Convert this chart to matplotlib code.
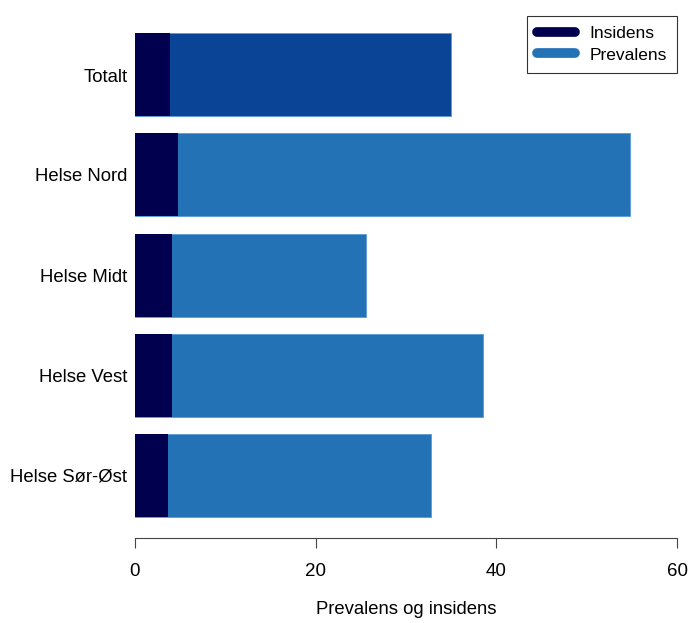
import matplotlib
matplotlib.use("Agg")
import matplotlib.pyplot as plt
from matplotlib.lines import Line2D

plt.rcParams["font.family"] = ["Liberation Sans", "DejaVu Sans"]

regions = ["Totalt", "Helse Nord", "Helse Midt", "Helse Vest", "Helse Sør-Øst"]
prevalens = [35.0, 54.8, 25.6, 38.5, 32.8]
insidens = [3.9, 4.8, 4.1, 4.1, 3.7]

c_ins = "#00004f"
c_prev = "#2372b5"
c_total = "#0a4496"

W, H = 689, 623
fig = plt.figure(figsize=(W / 100, H / 100), dpi=100)
ax = fig.add_axes([135 / W, 1 - 538 / H, (677 - 135) / W, (538 - 25) / H])

ypos = list(range(len(regions)))[::-1]
prev_colors = [c_total] + [c_prev] * (len(regions) - 1)

ax.barh(ypos, prevalens, height=0.83, color=prev_colors, edgecolor="#5a9bd5", linewidth=0.6)
ax.barh(ypos, insidens, height=0.83, color=c_ins, linewidth=0)

ax.set_xlim(0, 60)
ax.set_ylim(-0.63, 4.5)
ax.set_yticks(ypos)
ax.set_yticklabels(regions, fontsize=13.3)
ax.tick_params(axis="y", length=0, pad=5.5)
ax.set_xticks([0, 20, 40, 60])
ax.tick_params(axis="x", labelsize=13.5, length=7, width=0.8, color="#444444", pad=11)
for s in ["top", "right", "left"]:
    ax.spines[s].set_visible(False)
ax.spines["bottom"].set_color("#444444")
ax.spines["bottom"].set_linewidth(0.8)
ax.set_xlabel("Prevalens og insidens", fontsize=13.3, labelpad=15)

handles = [Line2D([0], [0], color=c_ins, lw=7, solid_capstyle="round"),
           Line2D([0], [0], color=c_prev, lw=7, solid_capstyle="round")]
leg = ax.legend(handles, ["Insidens", "Prevalens"], loc="upper right",
                bbox_to_anchor=(1.0, 1.018), borderaxespad=0, fontsize=12.5,
                frameon=True, fancybox=False, edgecolor="black", handlelength=2.2,
                borderpad=0.6, labelspacing=0.35, handletextpad=0.8)
leg.get_frame().set_linewidth(0.8)

fig.savefig("out.png", dpi=100)
